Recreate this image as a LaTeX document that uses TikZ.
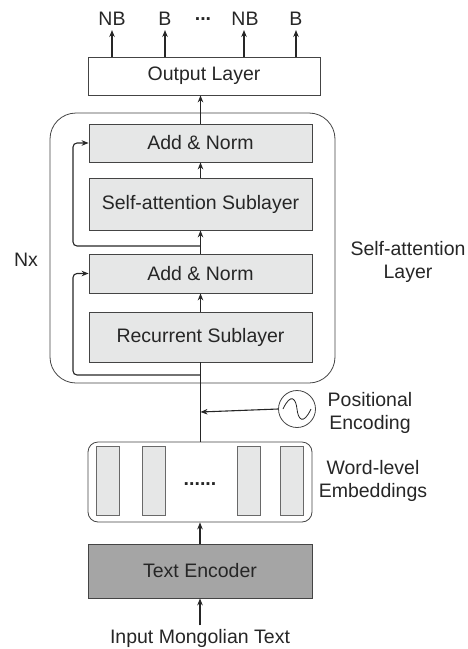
\documentclass[tikz,border=0pt]{standalone}
\usepackage{fontspec}
\setmainfont{Liberation Sans}
\usetikzlibrary{arrows.meta}
\definecolor{boxfill}{HTML}{E6E7E7}
\definecolor{encfill}{HTML}{A5A5A5}
\definecolor{edge}{HTML}{444444}
\tikzset{
  lbl/.style={font=\fontsize{19.5}{23}\selectfont, text=black!85},
  sublayer/.style={draw=edge, fill=boxfill, line width=0.8pt, minimum width=223pt, inner sep=0pt, lbl},
  bar/.style={draw=edge!80, fill=boxfill, line width=0.8pt, minimum width=23pt, minimum height=69pt, inner sep=0pt},
  conn/.style={draw=black!85, line width=1.1pt, -{Stealth[length=7pt,width=5.5pt]}},
  plain/.style={draw=black!85, line width=1.1pt}
}
\begin{document}
\begin{tikzpicture}[x=1pt,y=-1pt]
\useasboundingbox (0,0) rectangle (468,649);

% output layer and its labels
\node[draw=edge, line width=0.8pt, minimum width=232pt, minimum height=38pt, inner sep=0pt, lbl] (out) at (204,76) {Output Layer};
\node[lbl] (o1) at (112,19) {NB};
\node[lbl] (o2) at (165,19) {B};
\node[lbl] (odots) at (203,19) {\textbf{...}};
\node[lbl] (o3) at (245,19) {NB};
\node[lbl] (o4) at (296,19) {B};
\foreach \i/\x in {o1/112,o2/165,o3/244,o4/296}
  \draw[conn] (\x,57) -- (\x,30);

% self-attention layer block
\node[draw=edge, line width=0.8pt, rounded corners=26pt, minimum width=285pt, minimum height=270pt, inner sep=0pt] (block) at (192.5,248) {};
\node[sublayer, minimum height=38pt] (an2) at (200.5,143) {Add \& Norm};
\node[sublayer, minimum height=52pt] (sa) at (200.5,204) {Self-attention Sublayer};
\node[sublayer, minimum height=39pt] (an1) at (200.5,273.5) {Add \& Norm};
\node[sublayer, minimum height=50pt] (rec) at (200.5,337) {Recurrent Sublayer};

\node[lbl] (nx) at (26,260) {Nx};
\node[lbl, align=center] (salbl) at (408,262) {Self-attention\\Layer};

\draw[conn] (an2.north) -- (an2.north |- out.south);
\draw[conn] (sa.north) -- (an2.south);
\draw[conn] (an1.north) -- (sa.south);
\draw[conn] (rec.north) -- (an1.south);

% residual connections
\coordinate (r2) at (200.5,246);
\coordinate (r1) at (200.5,375);
\draw[conn, rounded corners=4pt] (r2) -- (73,246) -- (73,143) -- (an2.west);
\draw[conn, rounded corners=4pt] (r1) -- (73,375) -- (73,273.5) -- (an1.west);

% word-level embeddings
\node[draw=edge, line width=0.8pt, rounded corners=10pt, minimum width=224pt, minimum height=80pt, inner sep=0pt] (emb) at (200,482) {};
\node[bar] (b1) at (107.5,480.5) {};
\node[bar] (b2) at (154,480.5) {};
\node[bar] (b3) at (248.5,480.5) {};
\node[bar] (b4) at (291.5,480.5) {};
\node[lbl] (edots) at (200,484) {\textbf{......}};
\node[lbl, align=center] (emblbl) at (373,481) {Word-level\\Embeddings};

% positional encoding
\node[draw=edge, line width=0.8pt, circle, minimum size=37pt, inner sep=0pt] (pe) at (297,409) {};
\draw[line width=0.8pt, black!85] ([xshift=-14pt]pe.center) .. controls ([xshift=-6pt,yshift=17pt]pe.center) and ([xshift=-1pt,yshift=10pt]pe.center) .. (pe.center) .. controls ([xshift=1pt,yshift=-10pt]pe.center) and ([xshift=6pt,yshift=-17pt]pe.center) .. ([xshift=14pt]pe.center);
\node[lbl, align=center] (pelbl) at (370,413) {Positional\\Encoding};
\coordinate (pj) at (200.5,412);
\draw[conn] (pe.west) -- (pj);
\draw[plain] (emb.north -| rec.south) -- (rec.south);

% text encoder and input
\node[draw=edge, fill=encfill, line width=0.8pt, minimum width=224pt, minimum height=54pt, inner sep=0pt, lbl] (enc) at (200,571) {Text Encoder};
\draw[conn] (enc.north) -- (emb.south);
\node[lbl] (inp) at (200,638) {Input Mongolian Text};
\draw[conn] (inp.north) -- (enc.south);
\end{tikzpicture}
\end{document}
